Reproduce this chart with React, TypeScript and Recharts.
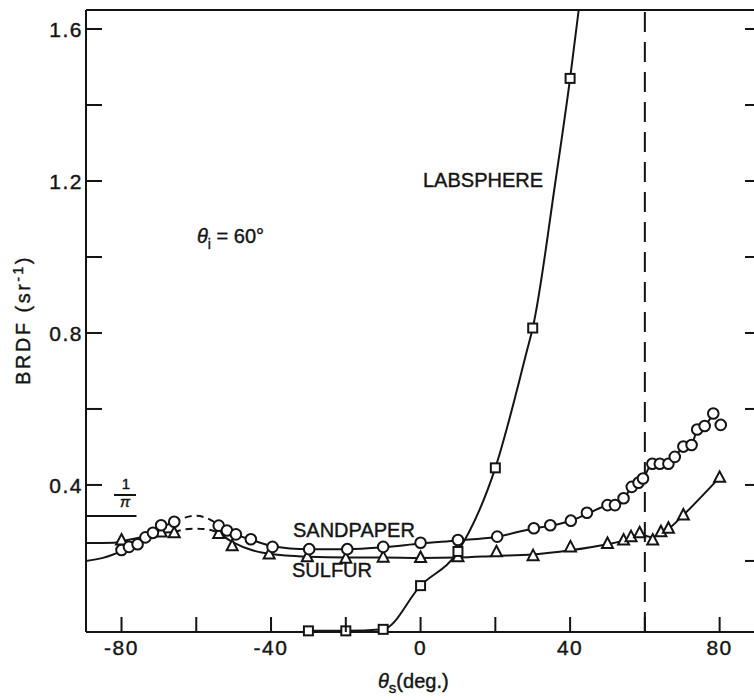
import React from 'react';
import { ComposedChart, Line, Scatter, XAxis, YAxis, ReferenceLine } from 'recharts';

const FONT = '"Liberation Sans", Arial, sans-serif';
const INK = '#141414';

// axis ticks
const xTicks = [-80, -60, -40, -20, 0, 20, 40, 60, 80];
const xTickLabels = ['-80', '', '-40', '', '0', '', '40', '', '80'];
const yTicks = [0.4, 0.6, 0.8, 1.0, 1.2, 1.4, 1.6];
const yTickLabels = ['0.4', '', '0.8', '', '1.2', '', '1.6'];
const yTicksRight = [0.2, 0.4, 0.6, 0.8, 1.0, 1.2, 1.4, 1.6];

const INV_PI = 1 / Math.PI;
const THETA_I = 60;

// measured points (markers)
const labsphereX = [-30, -20, -10, 0, 10, 20, 30, 40];
const labsphereY = [0.016, 0.016, 0.02, 0.135, 0.225, 0.445, 0.813, 1.47];

const sandpaperX = [-80, -78, -75.7, -73.6, -71.6, -69.4, -65.9, -54, -51.8, -49.4, -45.4, -39.6, -29.8, -19.6, -10, 0, 10, 20.5, 30.3, 34.7, 40.2, 44.5, 50, 52, 54.3, 56.5, 58.3, 59.5, 62, 64, 66.3, 68, 70.3, 72.5, 74, 76, 78.3, 80.3];
const sandpaperY = [0.229, 0.237, 0.244, 0.262, 0.274, 0.294, 0.303, 0.293, 0.28, 0.27, 0.257, 0.237, 0.231, 0.231, 0.237, 0.248, 0.255, 0.264, 0.286, 0.294, 0.306, 0.327, 0.347, 0.347, 0.365, 0.395, 0.406, 0.417, 0.456, 0.456, 0.456, 0.474, 0.501, 0.505, 0.546, 0.555, 0.588, 0.558];

const sulfurX = [-80, -69.4, -65.9, -54, -50.4, -40.5, -30.3, -20, -10, 0, 10, 20.3, 30.1, 40.1, 50, 54.3, 56.3, 58.6, 62.1, 64.3, 66.3, 70.3, 80];
const sulfurY = [0.255, 0.276, 0.274, 0.272, 0.24, 0.218, 0.211, 0.207, 0.21, 0.209, 0.211, 0.224, 0.214, 0.237, 0.246, 0.255, 0.264, 0.274, 0.255, 0.277, 0.286, 0.321, 0.42];

// fitted curves
const labsphereCurveX = [-30, -20, -10, 0, 10, 20, 28.5, 30, 36.1, 40, 42.3];
const labsphereCurveY = [0.016, 0.016, 0.02, 0.135, 0.225, 0.445, 0.755, 0.813, 1.2, 1.47, 1.65];

const sandLeftX = [-89.5, -85, -80, -76, -72, -69, -66];
const sandLeftY = [0.2, 0.208, 0.226, 0.245, 0.268, 0.29, 0.301];
const sandDashX = [-66, -63, -60, -57, -54];
const sandDashY = [0.301, 0.314, 0.319, 0.312, 0.295];
const sandRightX = [-54, -50, -45, -40, -35, -30, -20, -10, 0, 10, 20, 30, 35, 40, 45, 50, 52, 54.3, 56.5, 58.3, 59.5, 62, 64, 66.3, 68, 70.3, 72.5, 74, 76, 78.3];
const sandRightY = [0.295, 0.272, 0.255, 0.24, 0.233, 0.231, 0.231, 0.236, 0.246, 0.254, 0.263, 0.285, 0.293, 0.305, 0.326, 0.346, 0.348, 0.365, 0.393, 0.405, 0.416, 0.456, 0.456, 0.456, 0.473, 0.5, 0.506, 0.545, 0.555, 0.588];

const sulfLeftX = [-89.5, -82, -80, -76, -72, -69, -66];
const sulfLeftY = [0.247, 0.248, 0.252, 0.26, 0.268, 0.274, 0.276];
const sulfDashX = [-66, -63, -60, -57, -54];
const sulfDashY = [0.276, 0.283, 0.285, 0.283, 0.274];
const sulfRightX = [-54, -50, -45, -40, -30, -20, -10, 0, 10, 20, 30, 40, 50, 54.3, 56.3, 58.6, 62.1, 64.3, 66.3, 70.3, 80];
const sulfRightY = [0.274, 0.248, 0.228, 0.218, 0.211, 0.209, 0.209, 0.208, 0.209, 0.213, 0.217, 0.228, 0.244, 0.254, 0.262, 0.27, 0.262, 0.277, 0.285, 0.321, 0.42];

const zip = (xs: number[], ys: number[]) => xs.map((x, i) => ({ x, y: ys[i] }));

const labelFor = (ticks: number[], labels: string[], v: number) => {
  const i = ticks.findIndex((t) => Math.abs(t - v) < 1e-6);
  return i >= 0 ? labels[i] : '';
};

const tickText = { fontFamily: FONT, fontSize: 21, fill: INK, stroke: INK, strokeWidth: 0.4, letterSpacing: 1.5 };

const BottomTick = ({ x, y, payload }: any) => {
  const label = labelFor(xTicks, xTickLabels, payload.value);
  return (
    <g>
      <line x1={x} x2={x} y1={y} y2={y - 15} stroke={INK} strokeWidth={2} />
      {label && (
        <text x={x} y={y + 23} textAnchor="middle" style={tickText}>
          {label}
        </text>
      )}
    </g>
  );
};

const TopTick = ({ x, y }: any) => (
  <line x1={x} x2={x} y1={y} y2={y + 14} stroke={INK} strokeWidth={2} />
);

const LeftTick = ({ x, y, payload }: any) => {
  const label = labelFor(yTicks, yTickLabels, payload.value);
  return (
    <g>
      <line x1={x} x2={x + 16} y1={y} y2={y} stroke={INK} strokeWidth={2} />
      {label && (
        <text x={x - 3} y={y + 8} textAnchor="end" style={tickText}>
          {label}
        </text>
      )}
    </g>
  );
};

const RightTick = ({ x, y }: any) => (
  <line x1={x} x2={x - 15} y1={y} y2={y} stroke={INK} strokeWidth={2} />
);

const CircleDot = ({ cx, cy }: any) => (
  <circle cx={cx} cy={cy} r={5.3} fill="#fff" stroke={INK} strokeWidth={2} />
);
const TriangleDot = ({ cx, cy }: any) => (
  <path
    d={`M${cx},${cy - 6} L${cx + 5.5},${cy + 4.5} L${cx - 5.5},${cy + 4.5} Z`}
    fill="#fff"
    stroke={INK}
    strokeWidth={2}
  />
);
const SquareDot = ({ cx, cy }: any) => (
  <rect x={cx - 4.5} y={cy - 4.5} width={9} height={9} fill="#fff" stroke={INK} strokeWidth={2} />
);

const curve = (data: { x: number; y: number }[], dashed = false, key = '') => (
  <Line
    key={key}
    data={data}
    dataKey="y"
    type="monotone"
    stroke={INK}
    strokeWidth={2}
    strokeDasharray={dashed ? '7 5' : undefined}
    dot={false}
    activeDot={false}
    legendType="none"
    isAnimationActive={false}
  />
);

const labelStyle = { fontFamily: FONT, fontSize: 20, fill: INK, stroke: INK, strokeWidth: 0.4 };

export default function App() {
  return (
    <div style={{ position: 'absolute', left: 0, top: 0, width: 754, height: 700, overflow: 'hidden', background: '#fff' }}>
      <ComposedChart width={762} height={700} margin={{ top: 5, right: 1, bottom: 38, left: 26 }}>
        <XAxis
          dataKey="x"
          type="number"
          domain={[-89.5, 90.8]}
          ticks={xTicks}
          interval={0}
          tickSize={0}
          tickMargin={0}
          tickLine={false}
          tick={<BottomTick />}
          height={30}
          axisLine={{ stroke: INK, strokeWidth: 2 }}
        />
        <XAxis
          xAxisId="top"
          orientation="top"
          type="number"
          domain={[-89.5, 90.8]}
          allowDataOverflow
          ticks={xTicks}
          interval={0}
          tickSize={0}
          tickMargin={0}
          tickLine={false}
          tick={<TopTick />}
          height={5}
          axisLine={{ stroke: INK, strokeWidth: 2 }}
        />
        <YAxis
          type="number"
          domain={[0.013, 1.65]}
          ticks={yTicks}
          interval={0}
          tickSize={0}
          tickMargin={0}
          tickLine={false}
          tick={<LeftTick />}
          width={60}
          axisLine={{ stroke: INK, strokeWidth: 2 }}
        />
        <YAxis
          yAxisId="right"
          orientation="right"
          type="number"
          domain={[0.013, 1.65]}
          allowDataOverflow
          ticks={yTicksRight}
          interval={0}
          tickSize={0}
          tickMargin={0}
          tickLine={false}
          tick={<RightTick />}
          width={1}
          axisLine={{ stroke: INK, strokeWidth: 2 }}
        />
        <ReferenceLine x={THETA_I} stroke={INK} strokeWidth={2} strokeDasharray="20 10" />
        <ReferenceLine
          segment={[
            { x: -89.5, y: INV_PI },
            { x: -76, y: INV_PI },
          ]}
          stroke={INK}
          strokeWidth={2}
        />
        {curve(zip(labsphereCurveX, labsphereCurveY), false, 'lab')}
        {curve(zip(sandLeftX, sandLeftY), false, 'sl')}
        {curve(zip(sandDashX, sandDashY), true, 'sd')}
        {curve(zip(sandRightX, sandRightY), false, 'sr')}
        {curve(zip(sulfLeftX, sulfLeftY), false, 'ul')}
        {curve(zip(sulfDashX, sulfDashY), true, 'ud')}
        {curve(zip(sulfRightX, sulfRightY), false, 'ur')}
        <Scatter data={zip(sulfurX, sulfurY)} dataKey="y" shape={<TriangleDot />} isAnimationActive={false} legendType="none" />
        <Scatter data={zip(sandpaperX, sandpaperY)} dataKey="y" shape={<CircleDot />} isAnimationActive={false} legendType="none" />
        <Scatter data={zip(labsphereX, labsphereY)} dataKey="y" shape={<SquareDot />} isAnimationActive={false} legendType="none" />
      </ComposedChart>
      <svg width={754} height={700} style={{ position: 'absolute', left: 0, top: 0, pointerEvents: 'none' }}>
        <text transform="translate(30,320) rotate(-90)" textAnchor="middle" style={{ ...labelStyle, fontSize: 20, letterSpacing: 2.5 }}>
          BRDF (sr<tspan dy={-7} fontSize={14}>-1</tspan>
          <tspan dy={7}>)</tspan>
        </text>
        <text x={378} y={688} style={labelStyle}>
          <tspan fontStyle="italic">θ</tspan>
          <tspan fontSize={15} dy={5}>s</tspan>
          <tspan dy={-5}>(deg.)</tspan>
        </text>
        <text x={197} y={243} style={labelStyle}>
          <tspan fontStyle="italic">θ</tspan>
          <tspan fontSize={14} dy={6}>i</tspan>
          <tspan dy={-6}> = 60°</tspan>
        </text>
        <text x={423} y={187} style={labelStyle}>LABSPHERE</text>
        <text x={293} y={537} style={labelStyle}>SANDPAPER</text>
        <text x={292} y={577} style={labelStyle}>SULFUR</text>
        <text x={126} y={489} textAnchor="middle" style={{ ...labelStyle, fontSize: 15 }}>1</text>
        <line x1={114} x2={136} y1={495} y2={495} stroke={INK} strokeWidth={2} />
        <text x={125} y={507} textAnchor="middle" style={{ ...labelStyle, fontSize: 15, fontStyle: 'italic' }}>π</text>
      </svg>
    </div>
  );
}
